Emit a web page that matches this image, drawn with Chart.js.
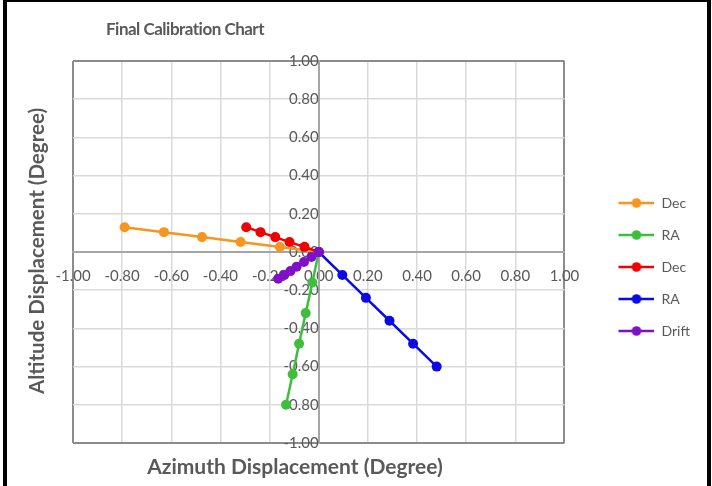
<!DOCTYPE html>
<html><head><meta charset="utf-8">
<script src="https://cdn.jsdelivr.net/npm/chart.js@4/dist/chart.umd.min.js"></script>
<style>
html,body{margin:0;padding:0;background:#fff;}
#wrap{position:relative;width:712px;height:486px;overflow:hidden;}
#frame{position:absolute;left:3px;top:0;width:700px;height:490px;border-top:2px solid #000;border-left:4px solid #000;border-right:4px solid #000;pointer-events:none;}
canvas{position:absolute;left:0;top:0;}
</style></head>
<body><div id="wrap"><canvas id="c" width="712" height="486"></canvas><div id="frame"></div></div>
<script>
// ---- data ----
const chartTitle = 'Final Calibration Chart';
const xAxisTitle = 'Azimuth Displacement (Degree)';
const yAxisTitle = 'Altitude Displacement (Degree)';
const seriesNames = ['Dec', 'RA', 'Dec', 'RA', 'Drift'];
const seriesColors = ['#F7951E', '#3DBE3D', '#F00000', '#0A0AE8', '#8010C8'];

const decAzA  = [-0.79, -0.63, -0.475, -0.318, -0.158, 0];
const decAltA = [0.13, 0.104, 0.078, 0.052, 0.026, 0];
const raAzA   = [0, -0.026, -0.053, -0.08, -0.106, -0.133];
const raAltA  = [0, -0.16, -0.32, -0.48, -0.64, -0.8];
const decAzB  = [-0.295, -0.237, -0.177, -0.119, -0.058, 0];
const decAltB = [0.13, 0.104, 0.078, 0.052, 0.027, 0];
const raAzB   = [0, 0.096, 0.192, 0.288, 0.384, 0.48];
const raAltB  = [0, -0.12, -0.24, -0.36, -0.48, -0.6];
const driftAz  = [0, -0.03, -0.06, -0.09, -0.115, -0.14, -0.165];
const driftAlt = [0, -0.026, -0.052, -0.077, -0.1, -0.12, -0.14];

const axisMin = -1, axisMax = 1, axisStep = 0.2;

const seriesX = [decAzA, raAzA, decAzB, raAzB, driftAz];
const seriesY = [decAltA, raAltA, decAltB, raAltB, driftAlt];

function pts(xs, ys) { return xs.map((x, i) => ({x: x, y: ys[i]})); }

function legendMarker(color) {
  const c = document.createElement('canvas');
  c.width = 72; c.height = 12;
  const g = c.getContext('2d');
  g.strokeStyle = color; g.lineWidth = 2.5;
  g.beginPath(); g.moveTo(36, 6); g.lineTo(72, 6); g.stroke();
  g.fillStyle = color;
  g.beginPath(); g.arc(54, 6, 4.8, 0, Math.PI * 2); g.fill();
  return c;
}

const datasets = seriesNames.map((name, i) => ({
  label: name,
  data: pts(seriesX[i], seriesY[i]),
  showLine: true,
  borderColor: seriesColors[i],
  backgroundColor: seriesColors[i],
  borderWidth: 2.5,
  pointRadius: 5,
  pointBorderWidth: 0,
  pointHoverRadius: 5,
  order: seriesNames.length - i
}));

const textPlugin = {
  id: 'texts',
  afterDraw(chart) {
    const {ctx, chartArea: a} = chart;
    ctx.save();
    ctx.fillStyle = '#595959';
    ctx.textAlign = 'center';
    ctx.textBaseline = 'middle';
    ctx.font = 'bold 17px Lato';
    if ('letterSpacing' in ctx) ctx.letterSpacing = '-0.5px';
    ctx.fillText(chartTitle, a.left + 112, a.top - 31);
    if ('letterSpacing' in ctx) ctx.letterSpacing = '0px';
    ctx.font = 'bold 21px Lato';
    ctx.fillText(xAxisTitle, a.left + 222, a.bottom + 24);
    ctx.font = 'bold 20.5px Lato';
    ctx.translate(a.left - 36, (a.top + a.bottom) / 2 - 1);
    ctx.rotate(-Math.PI / 2);
    ctx.fillText(yAxisTitle, 0, 0);
    ctx.restore();
  }
};

function isEdge(v) { return Math.abs(Math.abs(v) - 1) < 1e-9; }
function isZero(v) { return Math.abs(v) < 1e-9; }
function gridColor(ctx) {
  const v = ctx.tick ? ctx.tick.value : null;
  if (v === null) return '#d9d9d9';
  if (isEdge(v)) return '#8c8c8c';
  if (isZero(v)) return '#a6a6a6';
  return '#d9d9d9';
}
function gridWidth(ctx) {
  const v = ctx.tick ? ctx.tick.value : null;
  if (v !== null && (isEdge(v) || isZero(v))) return 2;
  return 1.5;
}

Chart.defaults.font.family = 'Lato';

new Chart(document.getElementById('c'), {
  type: 'scatter',
  data: { datasets: datasets },
  plugins: [textPlugin],
  options: {
    responsive: false,
    animation: false,
    devicePixelRatio: 1,
    layout: { padding: { left: 73, top: 61, bottom: 43, right: 12 } },
    scales: {
      x: {
        type: 'linear', min: axisMin, max: axisMax,
        position: { y: 0 },
        grid: { color: gridColor, lineWidth: gridWidth, drawTicks: false },
        border: { display: true, color: '#a6a6a6', width: 2 },
        ticks: { stepSize: axisStep, autoSkip: false, maxRotation: 0, padding: 15,
                 color: '#595959', font: { size: 15 },
                 callback: v => Number(v).toFixed(2) }
      },
      y: {
        type: 'linear', min: axisMin, max: axisMax,
        position: { x: 0 },
        grid: { color: gridColor, lineWidth: gridWidth, drawTicks: false },
        border: { display: true, color: '#a6a6a6', width: 2 },
        ticks: { stepSize: axisStep, autoSkip: false, padding: 16,
                 color: '#595959', font: { size: 15 },
                 callback: v => Number(v).toFixed(2) }
      }
    },
    plugins: {
      tooltip: { enabled: false },
      title: { display: false },
      legend: {
        position: 'right',
        align: 'center',
        title: { display: true, text: ' ', font: { size: 10 }, padding: { top: 9, bottom: 9 } },
        labels: {
          usePointStyle: true,
          pointStyleWidth: 72,
          padding: 18,
          color: '#595959',
          font: { size: 14 },
          generateLabels(chart) {
            return chart.data.datasets.map((ds, i) => ({
              text: ds.label,
              fillStyle: ds.borderColor,
              strokeStyle: ds.borderColor,
              fontColor: '#595959',
              lineWidth: 0,
              pointStyle: legendMarker(ds.borderColor),
              hidden: false,
              datasetIndex: i
            }));
          }
        }
      }
    }
  }
});
</script>
</body></html>
